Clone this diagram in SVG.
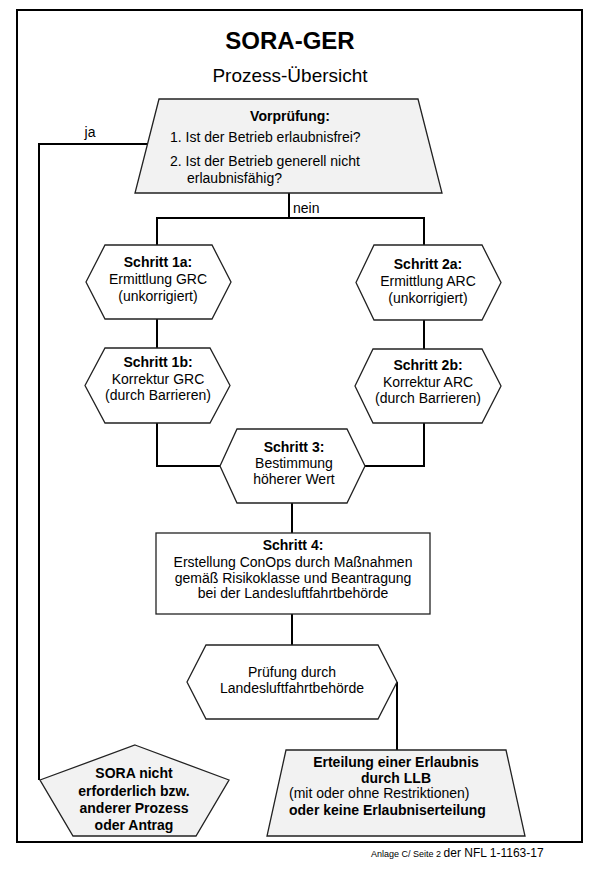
<svg xmlns="http://www.w3.org/2000/svg" width="601" height="882" viewBox="0 0 601 882">
<style>
text{font-family:"Liberation Sans",Arial,sans-serif;font-size:14px;fill:#000}
.b{font-weight:bold}
.c{text-anchor:middle}
.shape{fill:#fff;stroke:#222;stroke-width:1.3}
.grey{fill:#f2f2f2;stroke:#222;stroke-width:1.3}
.conn{fill:none;stroke:#000;stroke-width:2}
</style>
<rect width="601" height="882" fill="#fff"/>
<rect x="17" y="10" width="565" height="832" fill="none" stroke="#000" stroke-width="2"/>
<text class="b c" x="290" y="49" style="font-size:24px">SORA-GER</text>
<text class="c" x="290" y="82" style="font-size:19px">Prozess-Übersicht</text>

<g id="connectors">
<polyline class="conn" points="147.5,144 39,144 39,780"/>
<line class="conn" x1="289" y1="193" x2="289" y2="218"/>
<polyline class="conn" points="157,245 157,218 424,218 424,245"/>
<line class="conn" x1="157" y1="319" x2="157" y2="348"/>
<line class="conn" x1="424" y1="320" x2="424" y2="349"/>
<polyline class="conn" points="157,423 157,466 220,466"/>
<polyline class="conn" points="424,423 424,466 365,466"/>
<line class="conn" x1="292" y1="503" x2="292" y2="533"/>
<line class="conn" x1="292" y1="614" x2="292" y2="645"/>
<line class="conn" x1="397" y1="682" x2="397" y2="750"/>
<text class="c" x="90" y="137">ja</text>
<text x="293" y="213">nein</text>
</g>

<g id="vorpruefung">
<polygon class="grey" points="159,99 418,99 442,193 135,193"/>
<text class="b c" x="290" y="121">Vorprüfung:</text>
<text x="170" y="142">1. Ist der Betrieb erlaubnisfrei?</text>
<text x="170" y="166">2. Ist der Betrieb generell nicht</text>
<text x="187" y="183">erlaubnisfähig?</text>
</g>

<g id="schritt1a">
<polygon class="shape" points="86,282 105,245 212,245 231,282 212,319 105,319"/>
<text class="b c" x="158" y="267">Schritt 1a:</text>
<text class="c" x="158" y="284">Ermittlung GRC</text>
<text class="c" x="158" y="301">(unkorrigiert)</text>
</g>

<g id="schritt2a">
<polygon class="shape" points="356,282.5 374,245 482,245 501,282.5 482,320 374,320"/>
<text class="b c" x="428" y="269">Schritt 2a:</text>
<text class="c" x="428" y="286">Ermittlung ARC</text>
<text class="c" x="428" y="303">(unkorrigiert)</text>
</g>

<g id="schritt1b">
<polygon class="shape" points="85,385.5 105,348 210,348 230,385.5 210,423 105,423"/>
<text class="b c" x="158" y="367">Schritt 1b:</text>
<text class="c" x="158" y="384">Korrektur GRC</text>
<text class="c" x="158" y="400">(durch Barrieren)</text>
</g>

<g id="schritt2b">
<polygon class="shape" points="355,386 373,349 482,349 501,386 482,423 373,423"/>
<text class="b c" x="428" y="370">Schritt 2b:</text>
<text class="c" x="428" y="387">Korrektur ARC</text>
<text class="c" x="428" y="403">(durch Barrieren)</text>
</g>

<g id="schritt3">
<polygon class="shape" points="220,466 237,429 347,429 365,466 347,503 237,503"/>
<text class="b c" x="294" y="452">Schritt 3:</text>
<text class="c" x="294" y="468">Bestimmung</text>
<text class="c" x="294" y="484">höherer Wert</text>
</g>

<g id="schritt4">
<rect class="shape" x="156" y="533" width="274" height="81"/>
<text class="b c" x="293" y="550">Schritt 4:</text>
<text class="c" x="293" y="567">Erstellung ConOps durch Maßnahmen</text>
<text class="c" x="293" y="583">gemäß Risikoklasse und Beantragung</text>
<text class="c" x="293" y="598">bei der Landesluftfahrtbehörde</text>
</g>

<g id="pruefung">
<polygon class="shape" points="187,682 206,645 378,645 397,682 378,719 206,719"/>
<text class="c" x="292" y="677">Prüfung durch</text>
<text class="c" x="292" y="693">Landesluftfahrtbehörde</text>
</g>

<g id="sora-nicht">
<polygon class="grey" points="135,745 229,780 196,836 73,836 40,780"/>
<text class="b c" x="134" y="778">SORA nicht</text>
<text class="b c" x="134" y="796">erforderlich bzw.</text>
<text class="b c" x="134" y="813">anderer Prozess</text>
<text class="b c" x="134" y="830">oder Antrag</text>
</g>

<g id="erteilung">
<polygon class="grey" points="286,750 506,750 525,836 267,836"/>
<text class="b c" x="396" y="767">Erteilung einer Erlaubnis</text>
<text class="b c" x="396" y="783">durch LLB</text>
<text x="289" y="798">(mit oder ohne Restriktionen)</text>
<text class="b" x="289" y="815">oder keine Erlaubniserteilung</text>
</g>

<text x="371" y="857" style="font-size:9px">Anlage C/ Seite 2 <tspan style="font-size:12px">der NFL 1-1163-17</tspan></text>
</svg>
